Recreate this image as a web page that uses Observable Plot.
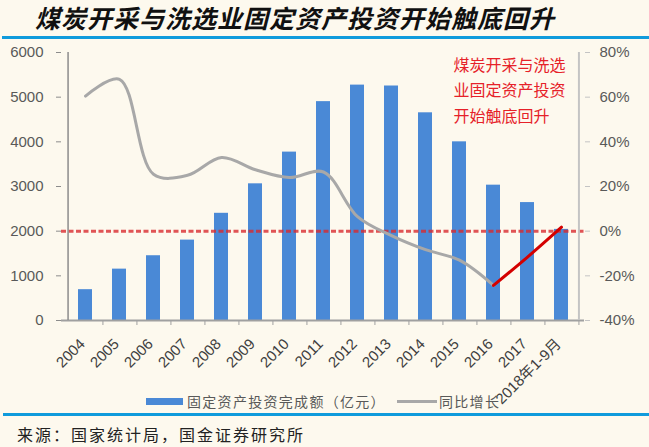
<!DOCTYPE html>
<html><head><meta charset="utf-8">
<script src="https://cdn.jsdelivr.net/npm/d3@7"></script>
<script src="https://cdn.jsdelivr.net/npm/@observablehq/plot@0.6"></script>
<style>
body{margin:0;background:#fdf9ee;}
#wrap{position:relative;width:649px;height:447px;overflow:hidden;background:#fdf9ee;font-family:"Noto Sans CJK SC",sans-serif;}
#title{position:absolute;left:35px;top:1px;font-size:25px;line-height:32px;padding-right:8px;font-weight:bold;font-style:italic;letter-spacing:1px;color:#111;white-space:nowrap;}
.hr{position:absolute;left:2px;right:0;background:#109bdc;}
#chart{position:absolute;left:0;top:40px;}
.lg{position:absolute;font-size:14px;line-height:18px;color:#595959;letter-spacing:1.3px;white-space:nowrap;}
#source{position:absolute;left:17px;top:423px;font-size:16px;line-height:22px;letter-spacing:2px;color:#222;white-space:nowrap;}
</style></head><body><div id="wrap">
<div id="title">煤炭开采与洗选业固定资产投资开始触底回升</div>
<div class="hr" style="top:36px;height:3px;"></div>
<div id="chart"></div>
<div id="legend"></div>
<div class="hr" style="top:413px;height:2.5px;left:3px;"></div>
<div id="source">来源：国家统计局，国金证券研究所</div>
</div>
<script>
const categories = ["2004","2005","2006","2007","2008","2009","2010","2011","2012","2013","2014","2015","2016","2017","2018年1-9月"];
const investment = [690,1150,1450,1800,2400,3060,3770,4900,5270,5250,4650,4000,3030,2640,2040];
const growth = [60.5,68,25.5,25,33,27.5,24,26.5,6.5,-2,-8.3,-13,-24.3,-11.6,1.8];
const leftTicks = [0,1000,2000,3000,4000,5000,6000];
const rightTicks = [-40,-20,0,20,40,60,80];
const leftDomain = [0,6000];
const pctDomain = [-40,80];
const reboundStart = "2016";
const annotationLines = ["煤炭开采与洗选","业固定资产投资","开始触底回升"];
const legendLabels = ["固定资产投资完成额（亿元）","同比增长"];

const barColor = "#4a89d6", lineColor = "#a8a8a8";
const toLeft = d3.scaleLinear(pctDomain, leftDomain);
const rows = categories.map((c,i)=>({cat:c, inv:investment[i], g:growth[i], gy:toLeft(growth[i])}));
const splitAt = categories.indexOf(reboundStart);
const history = rows.slice(0, splitAt + 1);
const rebound = rows.slice(splitAt);

const W=649,H=375,ML=61,MR=65,MT=12,MB=95;
const step=(W-ML-MR)/categories.length;
const font="'Liberation Sans','Noto Sans CJK SC',sans-serif";

const chart = Plot.plot({
  width:W,height:H,marginTop:MT,marginBottom:MB,marginLeft:ML,marginRight:MR,
  style:{background:"transparent",fontFamily:font,overflow:"visible"},
  x:{type:"band",domain:categories,paddingInner:0.6,paddingOuter:0.3,label:null},
  y:{domain:leftDomain,label:null},
  marks:[
    Plot.barY(rows,{x:"cat",y:"inv",fill:barColor}),
    Plot.ruleY([toLeft(0)],{stroke:"#d92b2f",strokeWidth:3,strokeDasharray:"5,2.5",opacity:0.8}),
    Plot.line(history,{x:"cat",y:"gy",stroke:lineColor,strokeWidth:3,curve:"catmull-rom"}),
    Plot.line(rebound,{x:"cat",y:"gy",stroke:"#d40000",strokeWidth:3,curve:"catmull-rom"}),
    Plot.ruleY([leftDomain[0]],{stroke:"#a0a0a0",strokeWidth:2}),
    Plot.ruleX([categories[0]],{dx:-step/2,y1:leftDomain[0],y2:leftDomain[1],stroke:"#8c8c8c",strokeWidth:1.5}),
    Plot.ruleX([categories[categories.length-1]],{dx:step/2,y1:leftDomain[0],y2:leftDomain[1],stroke:"#c4c4c4",strokeWidth:2}),
    Plot.ruleX(categories,{dx:step/2,insetTop:H-MT-MB,insetBottom:-5,stroke:"#a0a0a0"}),
    Plot.axisY(leftTicks,{anchor:"left",tickSize:5,tickPadding:13,fontSize:15,stroke:"#8c8c8c",fill:"#595959",label:null,
      tickFormat:d=>String(d)}),
    Plot.axisY(rightTicks.map(toLeft),{anchor:"right",tickSize:5,tickPadding:10,fontSize:15,stroke:"#c4c4c4",fill:"#595959",label:null,
      tickFormat:d=>Math.round(toLeft.invert(d))+"%"}),
    Plot.axisX({tickSize:0,tickPadding:21,tickRotate:-45,fontSize:15,fill:"#404040",dx:-3,label:null}),
    Plot.text([annotationLines.join("\n")],{frameAnchor:"top-left",dx:392,dy:0,textAnchor:"start",lineAnchor:"top",lineHeight:1.6,fontSize:16,fill:"#e62129",fontFamily:"'Noto Sans CJK SC',sans-serif"})
  ]
});
document.getElementById("chart").appendChild(chart);

const lg = document.getElementById("legend");
lg.innerHTML = `
<div style="position:absolute;left:146px;top:398px;width:37px;height:7px;background:${barColor}"></div>
<div class="lg" style="left:187px;top:392px;">${legendLabels[0]}</div>
<div style="position:absolute;left:397px;top:400px;width:40px;height:2.5px;background:${lineColor}"></div>
<div class="lg" style="left:439px;top:392px;">${legendLabels[1]}</div>`;
</script>
</body></html>
